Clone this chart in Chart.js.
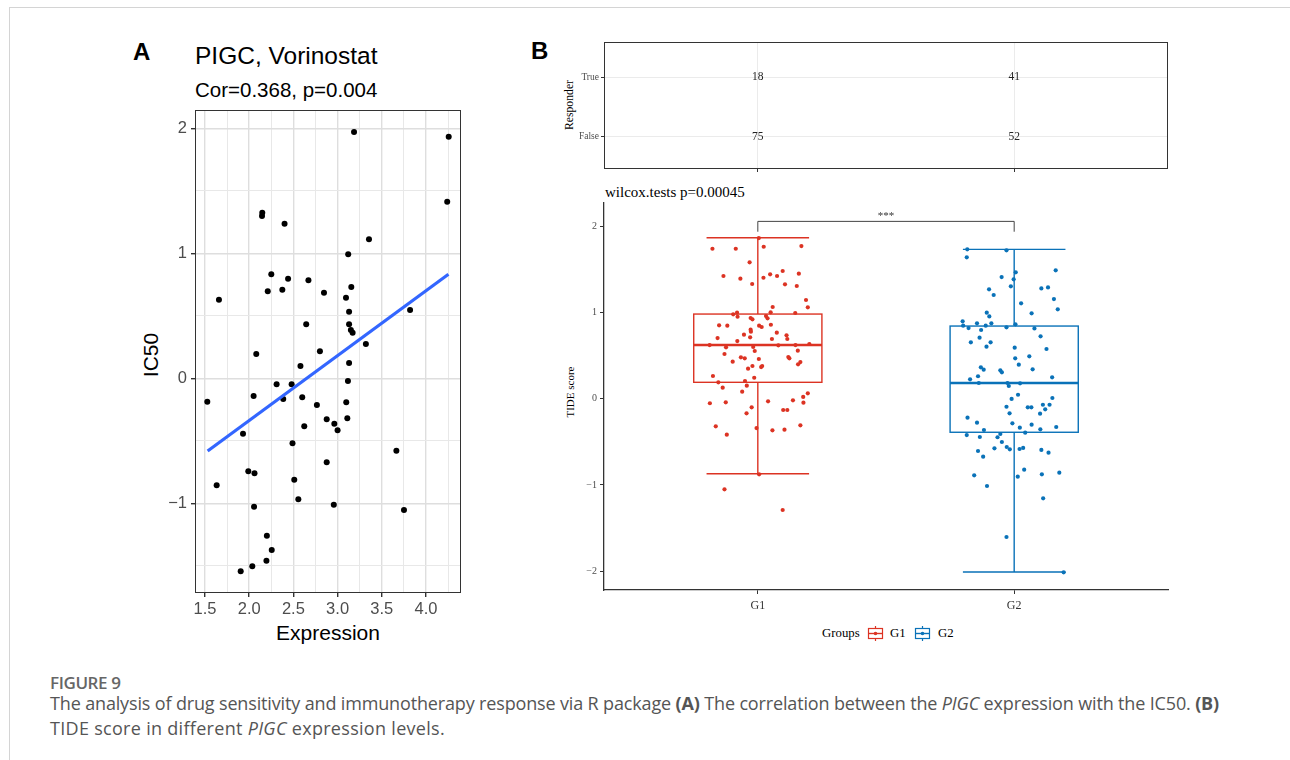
<!DOCTYPE html>
<html>
<head>
<meta charset="utf-8">
<script src="https://cdn.jsdelivr.net/npm/chart.js@4.4.1/dist/chart.umd.min.js"></script>
<style>
  body { margin: 0; background: #fff; }
  #page { position: relative; width: 1290px; height: 760px; overflow: hidden; background: #fff; }
  .frame-top { position: absolute; left: 9px; top: 7px; width: 1281px; height: 1px; background: #d4d4d4; }
  .frame-left { position: absolute; left: 9px; top: 7px; width: 1px; height: 753px; background: #d4d4d4; }
  .txt { position: absolute; white-space: nowrap; line-height: 1; color: #000; }
  .sans { font-family: "Liberation Sans", Arial, sans-serif; }
  .serif { font-family: "Liberation Serif", "Times New Roman", serif; }
  .rot { transform: translate(-50%, -50%) rotate(-90deg); }
  .ctr { transform: translate(-50%, -50%); }
  canvas { position: absolute; }
  .cap { position: absolute; left: 50px; white-space: nowrap; font-family: "Open Sans", sans-serif; color: #555; }
  .icon { position: absolute; }
</style>
</head>
<body>
<div id="page">
  <div class="frame-top"></div>
  <div class="frame-left"></div>

  <!-- panel A texts -->
  <div class="txt sans" style="left:133px;top:40px;font-size:24px;font-weight:bold">A</div>
  <div class="txt sans" style="left:195px;top:44px;font-size:24.5px">PIGC, Vorinostat</div>
  <div class="txt sans" style="left:195px;top:80px;font-size:20.5px">Cor=0.368, p=0.004</div>
  <div class="txt sans rot" style="left:150px;top:355px;font-size:21px">IC50</div>
  <div class="txt sans ctr" style="left:328px;top:632px;font-size:21px">Expression</div>
  <canvas id="cA" width="345" height="560" style="left:130px;top:100px"></canvas>

  <!-- panel B texts -->
  <div class="txt sans" style="left:531px;top:39px;font-size:24px;font-weight:bold">B</div>
  <div class="txt serif rot" style="left:570px;top:105px;font-size:11.7px">Responder</div>
  <div class="txt serif" style="left:605px;top:185px;font-size:15px">wilcox.tests p=0.00045</div>
  <div class="txt serif rot" style="left:570px;top:392px;font-size:11px">TIDE score</div>
  <canvas id="cT" width="640" height="150" style="left:540px;top:30px"></canvas>
  <canvas id="cB" width="640" height="425" style="left:540px;top:195px"></canvas>

  <!-- legend -->
  <div class="txt serif" style="left:822px;top:627px;font-size:12.8px">Groups</div>
  <svg class="icon" style="left:867px;top:625px" width="17" height="17">
    <line x1="8.5" y1="1" x2="8.5" y2="4" stroke="#DC3323" stroke-width="1.2"/>
    <line x1="8.5" y1="13" x2="8.5" y2="16" stroke="#DC3323" stroke-width="1.2"/>
    <rect x="1.5" y="3.5" width="14" height="10" fill="#fff" stroke="#DC3323" stroke-width="1.2"/>
    <line x1="1.5" y1="8.5" x2="15.5" y2="8.5" stroke="#DC3323" stroke-width="1.4"/>
    <circle cx="8.5" cy="8.5" r="1.8" fill="#DC3323"/>
  </svg>
  <div class="txt serif" style="left:890px;top:627px;font-size:12.8px">G1</div>
  <svg class="icon" style="left:914px;top:625px" width="17" height="17">
    <line x1="8.5" y1="1" x2="8.5" y2="4" stroke="#0A72B8" stroke-width="1.2"/>
    <line x1="8.5" y1="13" x2="8.5" y2="16" stroke="#0A72B8" stroke-width="1.2"/>
    <rect x="1.5" y="3.5" width="14" height="10" fill="#fff" stroke="#0A72B8" stroke-width="1.2"/>
    <line x1="1.5" y1="8.5" x2="15.5" y2="8.5" stroke="#0A72B8" stroke-width="1.4"/>
    <circle cx="8.5" cy="8.5" r="1.8" fill="#0A72B8"/>
  </svg>
  <div class="txt serif" style="left:938px;top:627px;font-size:12.8px">G2</div>

  <!-- caption -->
  <div class="cap" style="top:671px;font-size:17px;font-weight:600;color:#666;letter-spacing:-0.4px">FIGURE 9</div>
  <div class="cap" style="top:691px;font-size:18px;line-height:25px;letter-spacing:-0.15px">The analysis of drug sensitivity and immunotherapy response via R package <b>(A)</b> The correlation between the <i>PIGC</i> expression with the IC50. <b>(B)</b></div>
  <div class="cap" style="top:716px;font-size:18px;line-height:25px;letter-spacing:0.3px">TIDE score in different <i>PIGC</i> expression levels.</div>
</div>

<script>
// Panel A: PIGC expression against Vorinostat IC50
const expression = [
  3.186, 4.257, 4.24, 2.148, 2.145, 2.40, 3.355, 3.12, 2.25, 2.44,
  2.67, 2.21, 2.375, 2.846, 3.155, 3.095, 1.658, 3.13, 3.82, 2.645,
  3.13, 3.15, 3.17, 3.32, 2.08, 2.80, 3.13, 2.58, 2.31, 2.48,
  3.117, 1.526, 2.05, 2.385, 2.60, 2.766, 3.098, 2.877, 2.963, 3.0,
  3.11, 2.623, 1.93, 2.49, 3.665, 2.877, 1.99, 2.06, 1.632, 2.51,
  2.556, 2.055, 2.957, 3.751, 2.20, 2.255, 2.195, 2.035, 1.904
];
const ic50 = [
  1.97, 1.933, 1.413, 1.325, 1.298, 1.237, 1.112, 0.992, 0.832, 0.797,
  0.784, 0.696, 0.709, 0.685, 0.730, 0.645, 0.629, 0.533, 0.546, 0.432,
  0.432, 0.386, 0.365, 0.274, 0.194, 0.216, 0.122, 0.098, -0.048, -0.048,
  -0.022, -0.187, -0.142, -0.166, -0.152, -0.214, -0.192, -0.328, -0.363, -0.416,
  -0.32, -0.384, -0.443, -0.52, -0.579, -0.672, -0.744, -0.76, -0.856, -0.811,
  -0.968, -1.027, -1.011, -1.054, -1.259, -1.374, -1.459, -1.504, -1.544
];
const fitExpression = [1.53, 4.254];
const fitIc50 = [-0.582, 0.832];

// Panel B: responder table
const groups = ["G1", "G2"];
const responderLevels = ["False", "True"];
const countsFalse = [75, 52];
const countsTrue = [18, 41];

// Panel B: TIDE score, jitter offset from group centre
const g1Jitter = [
  0.004, -0.177, -0.086, 0.023, 0.170, -0.032, -0.134, -0.068, -0.022, 0.022,
  0.048, 0.075, 0.097, 0.106, 0.160, 0.152, 0.188, 0.195, 0.058, 0.050,
  0.146, -0.096, -0.081, -0.079, -0.028, -0.021, 0.032, 0.038, -0.151, -0.119,
  -0.028, -0.027, 0.005, 0.015, 0.051, -0.030, -0.054, -0.157, -0.080, 0.055,
  0.074, 0.112, 0.115, -0.188, -0.124, -0.018, -0.012, 0.080, 0.147, 0.201,
  0.156, -0.130, -0.066, -0.051, 0.004, 0.119, 0.123, -0.098, -0.021, -0.038,
  0.013, 0.017, 0.166, 0.157, -0.175, -0.014, -0.154, -0.050, -0.043, -0.137,
  -0.061, 0.195, 0.177, -0.187, -0.125, 0.040, 0.137, 0.178, -0.024, -0.044,
  0.099, 0.115, -0.164, -0.005, 0.057, 0.104, 0.166, -0.121, 0.005, -0.130,
  0.097
];
const g1Tide = [
  1.862, 1.738, 1.738, 1.761, 1.769, 1.581, 1.422, 1.391, 1.329, 1.402,
  1.441, 1.422, 1.480, 1.325, 1.449, 1.306, 1.144, 1.059, 1.063, 1.001,
  0.993, 0.978, 0.997, 0.95, 0.935, 0.92, 0.958, 0.932, 0.85, 0.846,
  0.80, 0.777, 0.846, 0.831, 0.857, 0.711, 0.742, 0.703, 0.668, 0.692,
  0.765, 0.734, 0.692, 0.622, 0.595, 0.599, 0.553, 0.619, 0.622, 0.634,
  0.556, 0.518, 0.48, 0.468, 0.46, 0.483, 0.468, 0.429, 0.379, 0.348,
  0.367, 0.379, 0.425, 0.398, 0.263, 0.243, 0.19, 0.205, 0.151, 0.128,
  0.081, 0.062, 0.02, -0.053, -0.042, -0.03, -0.019, -0.046, -0.1, -0.169,
  -0.131, -0.131, -0.32, -0.34, -0.366, -0.359, -0.308, -0.417, -0.876, -1.05,
  -1.29
];
const g2Jitter = [
  -0.183, -0.030, -0.185, 0.006, 0.162, -0.049, -0.002, -0.013, -0.098, -0.080,
  0.106, 0.132, 0.155, 0.170, 0.027, 0.068, -0.107, -0.097, -0.201, -0.199,
  -0.178, -0.145, -0.129, -0.111, -0.089, -0.030, 0.005, 0.079, 0.103, -0.135,
  -0.169, -0.092, -0.108, 0.002, 0.126, 0.004, 0.059, 0.018, -0.130, -0.119,
  -0.054, -0.048, 0.072, -0.141, -0.172, 0.148, -0.138, -0.026, -0.021, 0.023,
  0.015, -0.010, 0.149, -0.030, -0.018, 0.053, 0.067, 0.112, 0.138, 0.121,
  0.101, -0.182, -0.145, -0.007, 0.022, 0.068, 0.102, 0.164, -0.118, -0.185,
  -0.134, -0.065, -0.054, 0.043, -0.048, -0.077, -0.029, -0.017, 0.021, 0.035,
  0.106, 0.134, -0.141, -0.121, 0.039, -0.156, 0.014, 0.108, 0.176, -0.106,
  0.113, -0.030, 0.193
];
const g2Tide = [
  1.731, 1.72, 1.638, 1.465, 1.488, 1.41, 1.383, 1.302, 1.268, 1.202,
  1.278, 1.29, 1.155, 1.036, 1.105, 0.99, 0.997, 0.954, 0.897, 0.846,
  0.819, 0.873, 0.796, 0.846, 0.873, 0.827, 0.862, 0.815, 0.723, 0.707,
  0.653, 0.653, 0.603, 0.591, 0.576, 0.468, 0.491, 0.394, 0.364, 0.336,
  0.329, 0.306, 0.341, 0.26, 0.225, 0.248, 0.182, 0.182, 0.147, 0.178,
  0.046, -0.003, 0.008, -0.093, -0.169, -0.1, -0.1, -0.07, -0.07, -0.123,
  -0.174, -0.22, -0.278, -0.285, -0.336, -0.301, -0.355, -0.328, -0.363, -0.421,
  -0.444, -0.447, -0.409, -0.394, -0.502, -0.575, -0.56, -0.587, -0.583, -0.571,
  -0.594, -0.626, -0.606, -0.672, -0.823, -0.888, -0.904, -0.876, -0.857, -1.012,
  -1.154, -1.603, -2.012
];

// box plot statistics per group
const boxLower = [-0.869, -2.008];
const boxQ1 = [0.19, -0.389];
const boxMedian = [0.622, 0.182];
const boxQ3 = [0.981, 0.842];
const boxUpper = [1.866, 1.731];
const sigLabel = "***";

const groupColors = ["#DC3323", "#0A72B8"];
const SANS = "Liberation Sans";
const SERIF = "Liberation Serif";

const isMajor = (v, step) => Math.abs(v / step - Math.round(v / step)) < 1e-6;
const withMinus = (v) => (v < 0 ? "\u2212" + Math.abs(v) : String(v));

// fixed axis box, no extra label padding so the plot area sits where we want it
const fixSize = (prop, size) => (s) => {
  s[prop] = size;
  s.paddingTop = 0;
  s.paddingBottom = 0;
  s.paddingLeft = 0;
  s.paddingRight = 0;
};

const baseOptions = {
  responsive: false,
  animation: false,
  devicePixelRatio: 1,
  plugins: { legend: { display: false }, tooltip: { enabled: false } },
};

// full rectangle round the plotting area (ggplot panel.border)
const panelBorder = {
  id: "panelBorder",
  afterDatasetsDraw(chart) {
    const { ctx, chartArea: a } = chart;
    ctx.save();
    ctx.strokeStyle = "#333";
    ctx.lineWidth = 1;
    ctx.strokeRect(Math.round(a.left) + 0.5, Math.round(a.top) + 0.5,
      Math.round(a.right - a.left) - 1, Math.round(a.bottom - a.top) - 1);
    ctx.restore();
  },
};

// ---------- Panel A ----------
new Chart(document.getElementById("cA"), {
  type: "scatter",
  data: {
    datasets: [
      {
        type: "line",
        data: fitExpression.map((x, i) => ({ x, y: fitIc50[i] })),
        borderColor: "#3366FF",
        borderWidth: 3.2,
        pointRadius: 0,
        order: 0,
      },
      {
        data: expression.map((x, i) => ({ x, y: ic50[i] })),
        backgroundColor: "#000",
        borderWidth: 0,
        pointRadius: 3,
        order: 1,
      },
    ],
  },
  options: {
    ...baseOptions,
    layout: { padding: { top: 10, right: 14, left: 0, bottom: 0 } },
    scales: {
      x: {
        type: "linear",
        min: 1.387,
        max: 4.396,
        afterFit: fixSize("height", 67),
        border: { display: false },
        grid: {
          color: (c) => (c.tick && isMajor(c.tick.value, 0.5) ? "#dedede" : "#e8e8e8"),
          lineWidth: (c) => (c.tick && isMajor(c.tick.value, 0.5) ? 1.4 : 1),
          tickColor: (c) => (c.tick && isMajor(c.tick.value, 0.5) ? "#333" : "rgba(0,0,0,0)"),
          tickLength: 4,
        },
        ticks: {
          stepSize: 0.25,
          includeBounds: false,
          autoSkip: false,
          maxRotation: 0,
          padding: 3,
          color: "#4d4d4d",
          font: { family: SANS, size: 16.5 },
          callback: (v) => (isMajor(v, 0.5) ? v.toFixed(1) : ""),
        },
      },
      y: {
        type: "linear",
        min: -1.718,
        max: 2.146,
        afterFit: fixSize("width", 65),
        border: { display: false },
        grid: {
          color: (c) => (c.tick && isMajor(c.tick.value, 1) ? "#dedede" : "#e8e8e8"),
          lineWidth: (c) => (c.tick && isMajor(c.tick.value, 1) ? 1.4 : 1),
          tickColor: (c) => (c.tick && isMajor(c.tick.value, 1) ? "#333" : "rgba(0,0,0,0)"),
          tickLength: 4,
        },
        ticks: {
          stepSize: 0.5,
          includeBounds: false,
          autoSkip: false,
          padding: 4,
          color: "#4d4d4d",
          font: { family: SANS, size: 16.5 },
          callback: (v) => (isMajor(v, 1) ? withMinus(Math.round(v)) : ""),
        },
      },
    },
  },
  plugins: [panelBorder],
});

// ---------- Panel B: responder table ----------
const tableCells = [];
groups.forEach((g, i) => {
  tableCells.push({ x: i + 1, y: 1, n: countsFalse[i] });
  tableCells.push({ x: i + 1, y: 2, n: countsTrue[i] });
});

const cellText = {
  id: "cellText",
  afterDatasetsDraw(chart) {
    const { ctx } = chart;
    const meta = chart.getDatasetMeta(0);
    ctx.save();
    ctx.fillStyle = "#222";
    ctx.font = "11.5px " + SERIF;
    ctx.textAlign = "center";
    ctx.textBaseline = "middle";
    meta.data.forEach((pt, j) => {
      ctx.fillText(String(chart.data.datasets[0].data[j].n), pt.x, pt.y);
    });
    ctx.restore();
  },
};

new Chart(document.getElementById("cT"), {
  type: "scatter",
  data: { datasets: [{ data: tableCells, pointRadius: 0 }] },
  options: {
    ...baseOptions,
    layout: { padding: { top: 12, right: 12, left: 0, bottom: 0 } },
    scales: {
      x: {
        type: "linear",
        min: 0.4,
        max: 2.6,
        afterFit: fixSize("height", 11),
        afterBuildTicks: (s) => { s.ticks = groups.map((g, i) => ({ value: i + 1 })); },
        border: { display: false },
        grid: { color: "#ebebeb", lineWidth: 1, tickColor: "#333", tickLength: 3 },
        ticks: { display: false },
      },
      y: {
        type: "linear",
        min: 0.45,
        max: 2.6,
        afterFit: fixSize("width", 64),
        afterBuildTicks: (s) => { s.ticks = responderLevels.map((r, i) => ({ value: i + 1 })); },
        border: { display: false },
        grid: { color: "#ebebeb", lineWidth: 1, tickColor: "#333", tickLength: 3 },
        ticks: {
          padding: 2,
          color: "#4d4d4d",
          font: { family: SERIF, size: 9.5 },
          callback: (v) => responderLevels[Math.round(v) - 1],
        },
      },
    },
  },
  plugins: [panelBorder, cellText],
});

// ---------- Panel B: TIDE score box plot ----------
const boxPlot = {
  id: "boxPlot",
  beforeDatasetsDraw(chart) {
    const { ctx, scales: { x, y } } = chart;
    ctx.save();
    groups.forEach((g, i) => {
      const cx = x.getPixelForValue(i + 1);
      const half = x.getPixelForValue(i + 1.25) - cx;
      const cap = x.getPixelForValue(i + 1.2) - cx;
      const lo = y.getPixelForValue(boxLower[i]);
      const q1 = y.getPixelForValue(boxQ1[i]);
      const med = y.getPixelForValue(boxMedian[i]);
      const q3 = y.getPixelForValue(boxQ3[i]);
      const hi = y.getPixelForValue(boxUpper[i]);
      ctx.strokeStyle = groupColors[i];
      ctx.lineWidth = 1.4;
      ctx.beginPath();
      ctx.moveTo(cx, q3); ctx.lineTo(cx, hi);
      ctx.moveTo(cx - cap, hi); ctx.lineTo(cx + cap, hi);
      ctx.moveTo(cx, q1); ctx.lineTo(cx, lo);
      ctx.moveTo(cx - cap, lo); ctx.lineTo(cx + cap, lo);
      ctx.stroke();
      ctx.strokeRect(cx - half, q3, half * 2, q1 - q3);
      ctx.lineWidth = 2.4;
      ctx.beginPath();
      ctx.moveTo(cx - half, med); ctx.lineTo(cx + half, med);
      ctx.stroke();
    });
    ctx.restore();
  },
  afterDatasetsDraw(chart) {
    // significance bracket between the two groups
    const { ctx, scales: { x, y } } = chart;
    const x1 = x.getPixelForValue(1);
    const x2 = x.getPixelForValue(2);
    const top = y.getPixelForValue(2.055);
    const foot = y.getPixelForValue(1.935);
    ctx.save();
    ctx.strokeStyle = "#444";
    ctx.lineWidth = 1;
    ctx.beginPath();
    ctx.moveTo(x1, foot); ctx.lineTo(x1, top); ctx.lineTo(x2, top); ctx.lineTo(x2, foot);
    ctx.stroke();
    ctx.fillStyle = "#333";
    ctx.font = "11px " + SERIF;
    ctx.textAlign = "center";
    ctx.textBaseline = "middle";
    ctx.fillText(sigLabel, (x1 + x2) / 2, top - 5);
    ctx.restore();
  },
};

new Chart(document.getElementById("cB"), {
  type: "scatter",
  data: {
    datasets: [
      {
        data: g1Jitter.map((d, i) => ({ x: 1 + d, y: g1Tide[i] })),
        backgroundColor: groupColors[0],
        borderWidth: 0,
        pointRadius: 2.1,
      },
      {
        data: g2Jitter.map((d, i) => ({ x: 2 + d, y: g2Tide[i] })),
        backgroundColor: groupColors[1],
        borderWidth: 0,
        pointRadius: 2.1,
      },
    ],
  },
  options: {
    ...baseOptions,
    layout: { padding: { top: 8, right: 12, left: 0, bottom: 0 } },
    scales: {
      x: {
        type: "linear",
        min: 0.4,
        max: 2.6,
        afterFit: fixSize("height", 30),
        afterBuildTicks: (s) => { s.ticks = groups.map((g, i) => ({ value: i + 1 })); },
        border: { display: true, color: "#333", width: 1.3 },
        grid: { drawOnChartArea: false, tickColor: "#333", tickLength: 4 },
        ticks: {
          padding: 5,
          color: "#333",
          font: { family: SERIF, size: 12 },
          callback: (v) => groups[Math.round(v) - 1],
        },
      },
      y: {
        type: "linear",
        min: -2.217,
        max: 2.268,
        afterFit: fixSize("width", 64),
        afterBuildTicks: (s) => { s.ticks = [-2, -1, 0, 1, 2].map((v) => ({ value: v })); },
        border: { display: true, color: "#333", width: 1.3 },
        grid: { drawOnChartArea: false, tickColor: "#333", tickLength: 4 },
        ticks: {
          padding: 3,
          color: "#4d4d4d",
          font: { family: SERIF, size: 10 },
          callback: (v) => withMinus(v),
        },
      },
    },
  },
  plugins: [boxPlot],
});
</script>
</body>
</html>
